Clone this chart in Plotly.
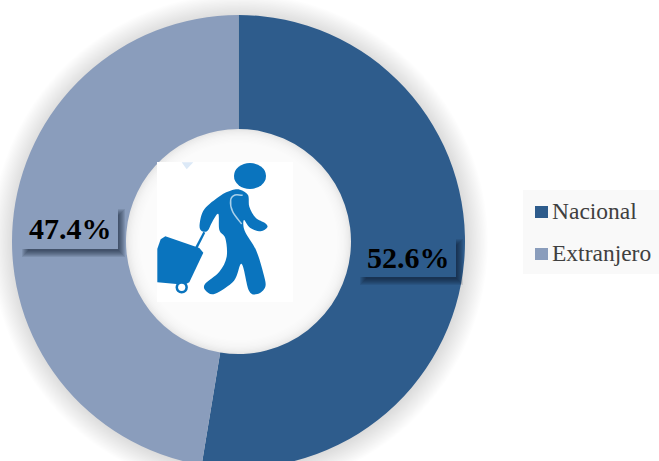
import plotly.graph_objects as go

# Share of travellers by origin
categories = ["Nacional", "Extranjero"]
shares = [52.6, 47.4]
slice_colors = ["#2E5C8C", "#8A9DBC"]

W, H = 659, 483
CX, CY, R, R_HOLE = 238.5, 241.5, 226.5, 112.5
SERIF = "Liberation Serif, Times New Roman, serif"
ICON_BLUE = "#0A74BE"


def px(x):
    return x / W


def py(y):
    return 1 - y / H


def shape_rect(x0, y0, x1, y1, fill, layer="above"):
    return dict(type="rect", xref="paper", yref="paper", x0=px(x0), x1=px(x1),
                y0=py(y1), y1=py(y0), fillcolor=fill, line_width=0, layer=layer)


def shape_circle(cx, cy, rx, ry, fill, layer="above"):
    return dict(type="circle", xref="paper", yref="paper", x0=px(cx - rx), x1=px(cx + rx),
                y0=py(cy + ry), y1=py(cy - ry), fillcolor=fill, line_width=0, layer=layer)


def icon_xy(p):
    # Icon outlines are written on a local grid at three units per pixel
    return px(140 + p[0] / 3), py(150 + p[1] / 3)


def smooth_path(points, closed=True):
    # Catmull-Rom through the outline points, written as cubic segments
    n = len(points)
    x0, y0 = icon_xy(points[0])
    d = f"M{x0:.5f},{y0:.5f}"
    for i in range(n if closed else n - 1):
        get = (lambda k: points[k % n]) if closed else (lambda k: points[max(0, min(n - 1, k))])
        p0, p1, p2, p3 = get(i - 1), get(i), get(i + 1), get(i + 2)
        c1 = (p1[0] + (p2[0] - p0[0]) / 6, p1[1] + (p2[1] - p0[1]) / 6)
        c2 = (p2[0] - (p3[0] - p1[0]) / 6, p2[1] - (p3[1] - p1[1]) / 6)
        a, b, c = icon_xy(c1), icon_xy(c2), icon_xy(p2)
        d += f" C{a[0]:.5f},{a[1]:.5f} {b[0]:.5f},{b[1]:.5f} {c[0]:.5f},{c[1]:.5f}"
    return d + (" Z" if closed else "")


def poly_path(points):
    coords = [icon_xy(p) for p in points]
    return "M" + " L".join(f"{x:.5f},{y:.5f}" for x, y in coords) + " Z"


def path_shape(d, fill=None, line=None, width=0):
    return dict(type="path", xref="paper", yref="paper", path=d,
                fillcolor=fill if fill else "rgba(0,0,0,0)",
                line=dict(color=line if line else "rgba(0,0,0,0)", width=width), layer="above")


shapes = []

# Soft halo around the ring, drawn beneath the pie
for i in range(18):
    shapes.append(shape_circle(CX + 1, CY + 1, R + 22 - i * 1.3, R + 22 - i * 1.3,
                               "rgba(0,0,0,0.008)", layer="below"))
# The hole keeps a grey rim that fades to white towards the middle
shapes.append(shape_circle(CX, CY, R_HOLE + 2, R_HOLE + 2, "#DCDCDC", layer="below"))
for i in range(18):
    r = R_HOLE + 1 - i * 1.3
    shapes.append(shape_circle(CX, CY, r, r, "rgba(255,255,255,0.2)", layer="below"))

# Value label plates with a soft drop shadow falling to the lower right
plates = [(360, 238, 456, 277, slice_colors[0]), (22, 208, 118, 249, slice_colors[1])]
for x0, y0, x1, y1, color in plates:
    for s in range(4, -3, -1):
        shapes.append(shape_rect(x0 + 4 - s, y0 + 5 - s, x1 + 3 + s, y1 + 4 + s, "rgba(10,20,40,0.10)"))
    shapes.append(shape_rect(x0, y0, x1, y1, color))

# Traveller icon on its white tile
shapes.append(shape_rect(157, 162, 293, 302, "#FFFFFF"))
shapes.append(path_shape(poly_path([(125, 37), (160, 37), (140, 58)]), fill="#DCE9F7"))
shapes.append(shape_circle(250, 176, 16, 13, ICON_BLUE))
body = [(300, 119), (324, 135), (328, 170), (347, 203), (375, 219), (382, 232), (362, 244), (330, 233),
        (312, 210), (314, 242), (348, 300), (370, 370), (376, 410), (352, 432), (327, 422), (305, 342),
        (282, 392), (225, 431), (198, 423), (195, 402), (238, 365), (260, 320), (256, 265), (238, 240),
        (235, 192), (217, 215), (202, 243), (184, 242), (179, 222), (193, 178), (240, 138), (275, 121)]
shapes.append(path_shape(smooth_path(body), fill=ICON_BLUE))
shapes.append(path_shape(smooth_path([(308, 136), (285, 135), (272, 150), (278, 185), (305, 222)], closed=False),
                         line="#A9D0EA", width=1.5))
shapes.append(path_shape(poly_path([(190, 245), (196, 248), (171, 298), (164, 295)]), fill=ICON_BLUE))
suitcase = [(76, 259), (178, 294), (190, 308), (148, 397), (134, 404), (52, 397), (52, 296), (62, 268)]
shapes.append(path_shape(poly_path(suitcase), fill=ICON_BLUE))
shapes.append(shape_circle(181.7, 287.3, 6.2, 6.2, ICON_BLUE))
shapes.append(shape_circle(181.7, 287.3, 3.6, 3.6, "#FFFFFF"))

# Legend panel and swatches
shapes.append(shape_rect(523, 190, 659, 274, "#F9F9F9"))
legend_rows = [212, 254]
for row, color in zip(legend_rows, slice_colors):
    shapes.append(shape_rect(535, row - 6, 548, row + 6, color))

annotations = []
for (x0, y0, x1, y1, _), value in zip(plates, shares):
    annotations.append(dict(xref="paper", yref="paper", x=px((x0 + x1) / 2), y=py((y0 + y1) / 2),
                            xanchor="center", yanchor="middle",
                            text=f"<b>{value:.1f}%</b>", showarrow=False,
                            font=dict(family=SERIF, size=30, color="#000000")))
for row, name in zip(legend_rows, categories):
    annotations.append(dict(xref="paper", yref="paper", x=px(550), y=py(row - 1), xanchor="left",
                            text=name, showarrow=False,
                            font=dict(family=SERIF, size=23.5, color="#404040")))

fig = go.Figure(go.Pie(
    labels=categories, values=shares, hole=R_HOLE / R, sort=False, rotation=0, direction="clockwise",
    marker=dict(colors=slice_colors, line=dict(width=0)), textinfo="none", hoverinfo="label+percent",
    domain=dict(x=[(CX - R) / W, (CX + R) / W], y=[1 - (CY + R) / H, 1 - (CY - R) / H]),
))
fig.update_layout(width=W, height=H, margin=dict(l=0, r=0, t=0, b=0), showlegend=False,
                  paper_bgcolor="#FFFFFF", shapes=shapes, annotations=annotations)
fig.write_html("out.html", config=dict(displayModeBar=False),
               post_script="document.documentElement.style.overflow='hidden';document.body.style.overflow='hidden';")
